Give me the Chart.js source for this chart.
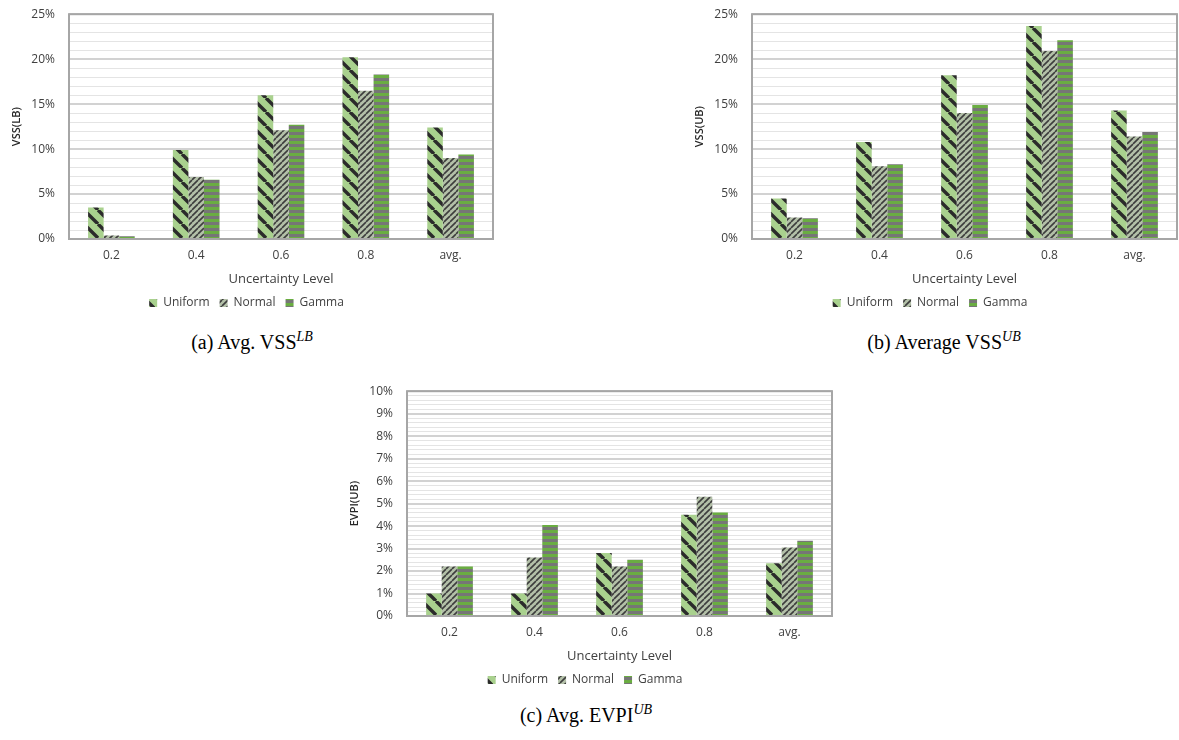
<!DOCTYPE html>
<html>
<head>
<meta charset="utf-8">
<script src="https://cdn.jsdelivr.net/npm/chart.js@4.4.1/dist/chart.umd.min.js"></script>
<style>
  html, body { margin: 0; padding: 0; background: #fff; }
  body { width: 1179px; height: 740px; position: relative; overflow: hidden; }
  .box { position: absolute; }
  .cap {
    position: absolute; width: 220px; text-align: center; white-space: nowrap;
    font-family: "Liberation Serif", serif; font-size: 20px; line-height: 22px; color: #000;
  }
  .cap sup { font-style: italic; font-size: 14px; vertical-align: 0; position: relative; top: -8px; }
</style>
</head>
<body>
<div class="box" style="left:0px;top:0px;width:495px;height:319px"><canvas id="chartA"></canvas></div>
<div class="box" style="left:683px;top:0px;width:496px;height:319px"><canvas id="chartB"></canvas></div>
<div class="box" style="left:338px;top:377px;width:496px;height:319px"><canvas id="chartC"></canvas></div>

<div class="cap" style="left:142px;top:331px">(a) Avg. VSS<sup>LB</sup></div>
<div class="cap" style="left:834px;top:331px">(b) Average VSS<sup>UB</sup></div>
<div class="cap" style="left:476px;top:704px">(c) Avg. EVPI<sup>UB</sup></div>

<script>
// categories + series names
const levels = ['0.2', '0.4', '0.6', '0.8', 'avg.'];
const seriesNames = ['Uniform', 'Normal', 'Gamma'];

// (a) VSS(LB), in %
const vssLbUniform = [3.5, 9.9, 16.0, 20.2, 12.4];
const vssLbNormal  = [0.4, 6.9, 12.1, 16.5, 9.0];
const vssLbGamma   = [0.3, 6.6, 12.7, 18.3, 9.4];

// (b) VSS(UB), in %
const vssUbUniform = [4.5, 10.8, 18.2, 23.7, 14.3];
const vssUbNormal  = [2.4, 8.1, 14.0, 20.9, 11.4];
const vssUbGamma   = [2.3, 8.3, 14.9, 22.1, 11.9];

// (c) EVPI(UB), in %
const evpiUniform = [1.0, 1.0, 2.8, 4.5, 2.35];
const evpiNormal  = [2.2, 2.6, 2.2, 5.3, 3.05];
const evpiGamma   = [2.2, 4.05, 2.5, 4.6, 3.35];

// y axis: [max, labelled step, gridline step]
const vssAxis = [25, 5, 1];
const evpiAxis = [10, 1, 0.2];

const FONT = '"Open Sans", sans-serif';

// bar fills (Excel-like pattern fills)
function diagPattern(size, bg, fg, lw, dir) {
    const c = document.createElement('canvas');
    c.width = size; c.height = size;
    const g = c.getContext('2d');
    g.fillStyle = bg;
    g.fillRect(0, 0, size, size);
    g.strokeStyle = fg;
    g.lineWidth = lw;
    g.beginPath();
    for (let k = -1; k <= 1; k++) {
        const o = k * size;
        if (dir === 'down') { g.moveTo(o, 0); g.lineTo(o + size, size); }
        else { g.moveTo(o, size); g.lineTo(o + size, 0); }
    }
    g.stroke();
    return g.createPattern(c, 'repeat');
}

function hStripes(h, c1, c2) {
    const c = document.createElement('canvas');
    c.width = 4; c.height = h * 2;
    const g = c.getContext('2d');
    g.fillStyle = c1; g.fillRect(0, 0, 4, h);
    g.fillStyle = c2; g.fillRect(0, h, 4, h);
    return g.createPattern(c, 'repeat');
}

const fills = [
    diagPattern(14, '#a9d18e', '#2b2b2b', 3.4, 'down'),
    diagPattern(6, '#b3c0a8', '#3d3d3d', 1.6, 'up'),
    hStripes(3, '#767676', '#6aad42')
];

// grey frame round the plot area
const plotFrame = {
    id: 'plotFrame',
    afterDatasetsDraw(chart) {
        const { ctx, chartArea: a } = chart;
        ctx.save();
        ctx.strokeStyle = '#a6a6a6';
        ctx.lineWidth = 2;
        ctx.strokeRect(a.left, a.top, a.right - a.left, a.bottom - a.top);
        ctx.restore();
    }
};

function makeChart(id, yTitle, values, axis) {
    const [yMax, major, minor] = axis;
    const isMajor = v => Math.abs(v / major - Math.round(v / major)) < 1e-6;

    return new Chart(document.getElementById(id), {
        type: 'bar',
        data: {
            labels: levels,
            datasets: seriesNames.map((name, i) => ({
                label: name,
                data: values[i],
                backgroundColor: fills[i],
                borderWidth: 0,
                categoryPercentage: 0.55,
                barPercentage: 1.0
            }))
        },
        options: {
            responsive: true,
            maintainAspectRatio: false,
            animation: false,
            layout: { padding: { top: 0, right: 2, left: 0, bottom: 0 } },
            plugins: {
                legend: {
                    position: 'bottom',
                    labels: {
                        boxWidth: 8,
                        boxHeight: 8,
                        padding: 10,
                        color: '#404040',
                        font: { family: FONT, size: 12 }
                    }
                },
                tooltip: { enabled: false }
            },
            scales: {
                x: {
                    grid: { display: false, drawTicks: false },
                    border: { display: false },
                    ticks: {
                        color: '#404040',
                        padding: 9,
                        font: { family: FONT, size: 12 }
                    },
                    title: {
                        display: true,
                        text: 'Uncertainty Level',
                        color: '#404040',
                        padding: { top: 0, bottom: 0 },
                        font: { family: FONT, size: 13 }
                    }
                },
                y: {
                    min: 0,
                    max: yMax,
                    afterFit(scale) { scale.width = 69; },
                    border: { display: false },
                    grid: {
                        drawTicks: true,
                        tickLength: 7,
                        tickColor: 'rgba(0,0,0,0)',
                        color: ctx => isMajor(ctx.tick.value) ? '#d2d2d2' : '#e4e4e4',
                        lineWidth: ctx => isMajor(ctx.tick.value) ? 2 : 1
                    },
                    ticks: {
                        stepSize: minor,
                        autoSkip: false,
                        padding: 7,
                        color: '#404040',
                        font: { family: FONT, size: 12 },
                        callback: v => isMajor(v) ? Math.round(v) + '%' : ''
                    },
                    title: {
                        display: true,
                        text: yTitle,
                        color: '#262626',
                        padding: { top: 10, bottom: 0 },
                        font: { family: FONT, size: 11, weight: '600' }
                    }
                }
            }
        },
        plugins: [plotFrame]
    });
}

makeChart('chartA', 'VSS(LB)', [vssLbUniform, vssLbNormal, vssLbGamma], vssAxis);
makeChart('chartB', 'VSS(UB)', [vssUbUniform, vssUbNormal, vssUbGamma], vssAxis);
makeChart('chartC', 'EVPI(UB)', [evpiUniform, evpiNormal, evpiGamma], evpiAxis);
</script>
</body>
</html>
